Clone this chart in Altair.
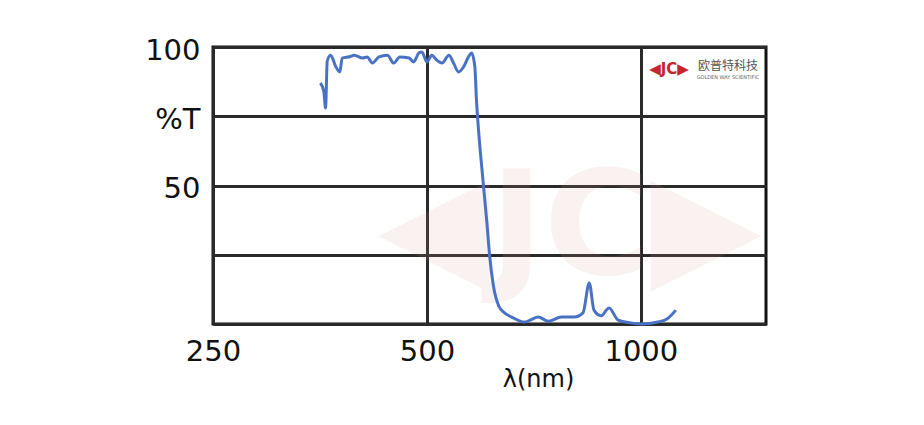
import altair as alt
import pandas as pd

# Transmission spectrum
wavelength_nm = [354, 358, 360, 362, 366, 372, 377, 380, 389, 395, 406, 412, 419, 428,
                 440, 449, 458, 472, 479, 487, 492, 500, 508, 516, 525, 537, 545, 554,
                 563, 573, 578, 584, 587, 591, 597, 601, 607, 613, 620, 631, 643, 658,
                 686, 700, 717, 741, 773, 806, 829, 846, 859, 879, 902, 929, 968, 1003,
                 1056, 1091, 1120]
transmission = [87, 84, 78, 95, 97, 93, 91, 96, 96.5, 97, 96, 96.4, 94.2, 96.4,
                97, 94.2, 96.4, 96, 94.6, 97.8, 98.2, 94.6, 97, 95.3, 94.2, 97, 94.2, 91,
                92.8, 96.8, 97.8, 92.8, 81, 70, 57, 49, 37, 24, 14, 6.5, 4, 2.5,
                0.7, 1.5, 2.5, 1, 2.5, 2.5, 4, 14.8, 5, 3, 5.8, 1.4, 0.4, 0,
                0.7, 2, 5]

x_ticks = [250, 500, 1000]
y_grid = [0, 25, 50, 75, 100]
y_labels = {100: "100", 75: "%T", 50: "50"}
logo_cn = "欧普特科技"
logo_en = "GOLDEN WAY SCIENTIFIC"
logo_mark = "◀JC▶"

df = pd.DataFrame({"wl": wavelength_nm, "T": transmission})

label_expr = " : ".join(
    [f"datum.value == {k} ? '{v}'" for k, v in y_labels.items()]
) + " : ''"

x_enc = alt.X(
    "wl:Q",
    scale=alt.Scale(type="log", domain=[250, 1500], nice=False),
    axis=alt.Axis(
        values=x_ticks, format="d", grid=True, gridColor="#2a2a2a", gridWidth=3,
        gridOpacity=1, ticks=False, domain=False, labelFontSize=29,
        labelFont="DejaVu Sans", labelColor="#111", labelPadding=13, labelFlush=False,
        title="λ(nm)", titleFontSize=24, titleFont="DejaVu Sans",
        titleFontWeight="normal", titleColor="#111",
        titleX=325, titleY=55, titleBaseline="middle", titleAnchor="start",
        titleAlign="center",
    ),
)
y_enc = alt.Y(
    "T:Q",
    scale=alt.Scale(domain=[0, 100], nice=False),
    axis=alt.Axis(
        values=y_grid, grid=True, gridColor="#2a2a2a", gridWidth=3, gridOpacity=1,
        ticks=False, domain=False, labelExpr=label_expr, labelFontSize=29,
        labelFont="DejaVu Sans", labelColor="#111", labelPadding=13,
        labelOffset=3, labelFlush=False, title=None,
    ),
)

logo_df = pd.DataFrame({"mark": [logo_mark], "cn": [logo_cn], "en": [logo_en]})

watermark = alt.Chart(logo_df).mark_text(
    color="#e09a9a", opacity=0.13, fontSize=145, fontWeight="bold", font="DejaVu Sans"
).encode(text="mark:N", x=alt.value(357), y=alt.value(183))

line = alt.Chart(df).mark_line(
    color="#4a72c4", strokeWidth=3, interpolate="monotone"
).encode(x=x_enc, y=y_enc)

logo_sym = alt.Chart(logo_df).mark_text(
    color="#c8262c", fontSize=15, fontWeight="bold", font="DejaVu Sans"
).encode(text="mark:N", x=alt.value(456), y=alt.value(22))
logo_txt = alt.Chart(logo_df).mark_text(
    color="#555", fontSize=12, font="Noto Sans CJK SC"
).encode(text="cn:N", x=alt.value(515), y=alt.value(19))
logo_sub = alt.Chart(logo_df).mark_text(
    color="#666", fontSize=5, font="DejaVu Sans"
).encode(text="en:N", x=alt.value(515), y=alt.value(30))

chart = alt.layer(watermark, line, logo_sym, logo_txt, logo_sub).properties(
    width=553, height=277,
    autosize=alt.AutoSizeParams(type="none"),
    padding={"left": 205, "top": 39, "right": 150, "bottom": 90},
    background="white",
).configure_view(stroke="#111", strokeWidth=3)

chart.save("out.html", embed_options={"renderer": "svg", "actions": False})
